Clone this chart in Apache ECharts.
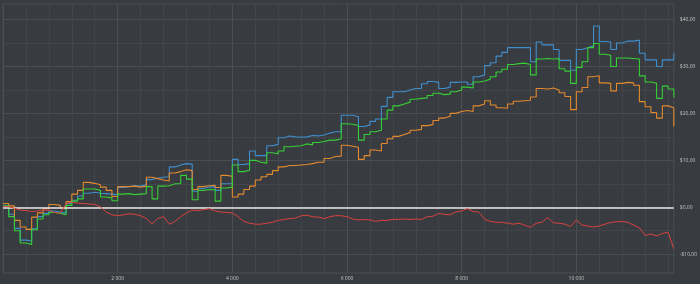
<!DOCTYPE html>
<html>
<head>
<meta charset="utf-8">
<script src="https://cdn.jsdelivr.net/npm/echarts@6/dist/echarts.min.js"></script>
<style>
html,body{margin:0;padding:0;background:#383b3f;}
#chart{width:700px;height:284px;}
</style>
</head>
<body>
<div id="chart"></div>
<script>
// sample positions (trade index)
const xValues = [0,100,200,300,400,500,600,700,800,900,1000,1100,1200,1300,1400,1500,1600,1700,1800,1900,
2000,2100,2200,2300,2400,2500,2600,2700,2800,2900,3000,3100,3200,3300,3400,3500,3600,3700,3800,3900,
4000,4100,4200,4300,4400,4500,4600,4700,4800,4900,5000,5100,5200,5300,5400,5500,5600,5700,5800,5900,
6000,6100,6200,6300,6400,6500,6600,6700,6800,6900,7000,7100,7200,7300,7400,7500,7600,7700,7800,7900,
8000,8100,8200,8300,8400,8500,8600,8700,8800,8900,9000,9100,9200,9300,9400,9500,9600,9700,9800,9900,
10000,10100,10200,10300,10400,10500,10600,10700,10800,10900,11000,11100,11200,11300,11400,11500,11600,11700];

const blueValues = [0.3,-1.5,-4.5,-7.0,-7.2,-4.6,-2.0,-1.3,-0.8,-1.0,-1.2,0.8,1.5,2.4,3.0,3.2,3.0,2.9,2.8,2.7,
4.2,4.4,4.6,4.5,4.8,5.9,6.2,6.4,6.5,8.6,9.0,9.3,9.2,3.4,4.0,4.3,4.4,3.6,5.0,5.0,
10.2,9.1,9.3,12.0,11.0,11.0,13.1,13.4,14.8,15.2,15.0,14.9,15.0,15.3,15.2,15.4,15.8,16.1,16.1,19.6,
19.6,19.3,17.2,17.5,18.3,18.8,21.5,23.4,24.6,24.6,25.0,25.3,25.3,26.3,26.8,26.6,25.3,25.6,26.6,26.7,
26.7,26.2,27.8,28.2,30.2,30.8,32.2,33.0,34.0,34.0,34.0,34.0,31.0,35.2,34.6,34.6,33.6,31.3,31.3,29.2,
33.6,34.0,34.4,38.6,35.3,35.2,33.6,35.0,35.4,35.4,35.6,32.8,31.4,31.4,30.0,31.4,31.4,32.8];

const greenValues = [0.3,-2.0,-5.0,-7.6,-7.9,-4.8,-2.5,-1.6,-1.1,-1.3,-1.6,0.4,1.3,1.8,3.9,3.9,3.6,2.2,2.0,1.4,
2.8,2.9,2.7,2.8,2.9,4.4,1.8,4.5,4.6,5.0,5.0,6.8,6.0,1.6,3.6,3.8,3.7,1.3,4.1,4.3,
9.0,7.6,7.9,10.0,9.6,9.4,11.6,11.4,12.0,12.9,13.0,13.1,13.5,13.3,13.8,14.0,14.3,14.3,14.6,17.8,
17.7,17.4,14.3,15.5,16.1,16.4,18.8,20.7,21.6,22.0,22.4,23.0,23.2,23.3,23.8,24.3,24.0,24.1,24.6,25.0,
25.6,25.4,26.7,26.9,27.3,27.8,28.8,29.4,30.4,30.6,30.7,30.4,28.2,31.6,31.7,31.6,31.7,29.5,29.0,26.4,
29.8,31.0,34.0,34.9,32.6,32.4,30.0,31.8,31.8,31.7,31.6,28.0,26.7,26.4,23.2,25.8,25.2,23.4];

const orangeValues = [0.8,0.3,-2.8,-4.2,-4.7,-2.1,-1.2,-0.3,0.6,0.4,-0.2,1.2,2.8,3.6,5.3,5.1,4.8,4.3,3.6,2.3,
4.4,4.4,4.5,4.3,4.5,6.4,6.1,5.8,5.6,7.3,7.6,8.0,7.8,3.8,4.4,4.6,4.7,4.2,6.8,6.6,
2.2,2.8,3.8,4.5,5.8,6.5,7.0,7.8,8.6,8.9,8.9,9.0,9.1,9.3,9.6,9.6,10.4,10.8,10.9,13.2,
13.0,12.8,10.2,11.0,12.2,12.0,13.6,14.6,15.1,15.5,15.9,16.4,16.6,17.4,17.6,18.5,19.0,19.4,20.0,20.4,
20.6,20.4,21.6,22.0,22.7,21.8,21.2,21.1,22.0,22.6,22.7,22.8,23.5,25.3,25.2,25.4,25.0,24.4,23.6,20.8,
24.6,25.5,27.8,28.0,26.5,26.4,24.8,26.4,26.6,26.5,26.0,22.5,21.4,20.2,19.0,21.6,21.2,17.2];

const redValues = [0.2,0.1,-0.2,-0.6,-0.7,-0.9,-0.8,-0.6,-0.6,-1.1,-1.3,0.8,1.1,0.9,0.8,0.7,0.6,0.1,-1.0,-1.6,
-1.8,-1.6,-1.4,-1.5,-1.8,-2.4,-3.6,-2.4,-2.0,-3.6,-3.0,-2.0,-1.2,-0.6,-0.7,-0.5,-0.3,-0.8,-1.0,-1.1,
-1.2,-2.0,-3.0,-3.4,-3.6,-3.6,-3.4,-3.2,-2.8,-2.6,-2.4,-2.3,-1.8,-1.7,-2.0,-2.1,-2.4,-2.0,-1.8,-1.8,
-2.0,-2.5,-2.7,-2.6,-2.7,-3.0,-2.8,-2.8,-2.6,-2.6,-2.5,-2.6,-2.5,-2.6,-2.0,-1.9,-1.3,-1.5,-1.6,-1.0,
-0.8,-0.3,-0.9,-1.0,-2.6,-3.0,-3.2,-3.2,-3.4,-3.6,-3.4,-3.8,-4.3,-3.4,-3.2,-2.2,-3.3,-3.4,-3.6,-4.1,
-2.7,-3.8,-4.0,-4.2,-4.0,-3.6,-3.2,-3.1,-3.0,-3.2,-3.8,-4.4,-6.0,-5.7,-6.1,-5.6,-5.3,-8.8];

// axis ticks / labels
const xGridTicks = [0,400,800,1200,1600,2000,2400,2800,3200,3600,4000,4400,4800,5200,5600,6000,6400,6800,7200,7600,
8000,8400,8800,9200,9600,10000,10400,10800,11200,11600];
const xLabelTicks = [2000,4000,6000,8000,10000];
const yGridTicks = [-10,-5,0,5,10,15,20,25,30,35,40];
const yLabelTicks = [-10,0,10,20,30,40];

const MAJOR = '#4b4e52';
const MINOR = '#424549';

function pairs(vals){ return xValues.map((x,i)=>[x, vals[i]]); }
function fmtX(v){ return String(v).replace(/\B(?=(\d{3})+(?!\d))/g,' '); }
function fmtY(v){ const s = '$' + Math.abs(v).toFixed(2).replace('.', ','); return v < 0 ? '-' + s : s; }

const chart = echarts.init(document.getElementById('chart'), null, {renderer:'canvas'});
chart.setOption({
  backgroundColor:'#383b3f',
  animation:false,
  textStyle:{fontFamily:'Open Sans'},
  grid:{left:3, right:22, top:4, bottom:11, show:true, borderColor:'#4b4e52', borderWidth:1, backgroundColor:'transparent'},
  xAxis:{
    type:'value', min:0, max:11700,
    axisLine:{show:false},
    axisTick:{show:false, customValues:xGridTicks},
    axisLabel:{customValues:xLabelTicks, formatter:fmtX, color:'#c4c4c4', fontSize:5, margin:3},
    splitLine:{show:true, lineStyle:{color:[MAJOR,MINOR,MINOR,MINOR,MINOR], width:1}}
  },
  yAxis:{
    type:'value', position:'right', min:-14, max:43.3,
    axisLine:{show:false},
    axisTick:{show:false, customValues:yGridTicks},
    axisLabel:{customValues:yLabelTicks, formatter:fmtY, color:'#c4c4c4', fontSize:5, margin:6, align:'left'},
    splitLine:{show:true, lineStyle:{color:[MAJOR,MINOR], width:1}}
  },
  series:[
    {name:'blue', type:'line', step:'end', showSymbol:false, data:pairs(blueValues),
     lineStyle:{color:'#3f8fce', width:1.1}, itemStyle:{color:'#3f8fce'}, z:2},
    {name:'orange', type:'line', step:'end', showSymbol:false, data:pairs(orangeValues),
     lineStyle:{color:'#e38a2f', width:1.1}, itemStyle:{color:'#e38a2f'}, z:3},
    {name:'green', type:'line', step:'end', showSymbol:false, data:pairs(greenValues),
     lineStyle:{color:'#35d035', width:1.1}, itemStyle:{color:'#35d035'}, z:4},
    {name:'red', type:'line', showSymbol:false, data:pairs(redValues),
     lineStyle:{color:'#d9423f', width:1}, itemStyle:{color:'#d9423f'}, z:5,
     markLine:{silent:true, symbol:'none', label:{show:false}, animation:false,
       lineStyle:{color:'#e8e8e8', width:1.6, type:'solid'}, data:[{yAxis:0}]}}
  ]
});
</script>
</body>
</html>
